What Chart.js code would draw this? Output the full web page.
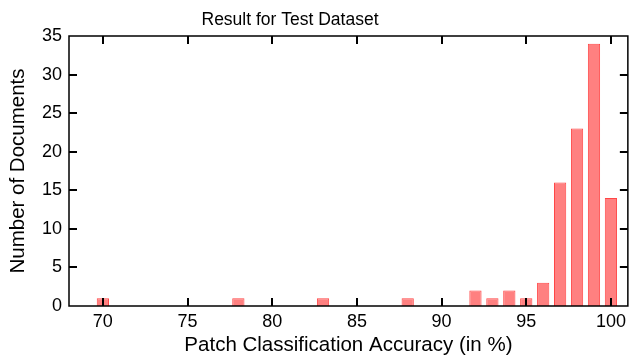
<!DOCTYPE html>
<html>
<head>
<meta charset="utf-8">
<script src="https://cdn.jsdelivr.net/npm/chart.js@4/dist/chart.umd.min.js"></script>
<style>
  html, body { margin: 0; padding: 0; background: #fff; }
  #wrap { width: 631px; height: 358px; position: relative; }
</style>
</head>
<body>
<div id="wrap"><canvas id="histChart"></canvas></div>
<script>
// accuracy bins (in %) and number of documents per bin
const accuracy = [70, 78, 83, 88, 92, 93, 94, 95, 96, 97, 98, 99, 100];
const documents = [1, 1, 1, 1, 2, 1, 2, 1, 3, 16, 23, 34, 14];
const xTicks = [70, 75, 80, 85, 90, 95, 100];
const yTicks = [0, 5, 10, 15, 20, 25, 30, 35];

const fontFamily = '"Liberation Sans", Arial, sans-serif';

// ticks pointing inwards on all four sides + title over the figure
const frameTicks = {
    id: 'frameTicks',
    afterDraw(chart) {
        const ctx = chart.ctx;
        const area = chart.chartArea;
        const xs = chart.scales.x;
        const ys = chart.scales.y;
        const len = 8;
        ctx.save();
        ctx.strokeStyle = '#000';
        ctx.lineWidth = 2;
        ctx.beginPath();
        xTicks.forEach(v => {
            const px = Math.round(xs.getPixelForValue(v));
            ctx.moveTo(px, area.bottom);
            ctx.lineTo(px, area.bottom - len);
            ctx.moveTo(px, area.top);
            ctx.lineTo(px, area.top + len);
        });
        yTicks.slice(1, -1).forEach(v => {
            const py = Math.round(ys.getPixelForValue(v));
            ctx.moveTo(area.left, py);
            ctx.lineTo(area.left + len, py);
            ctx.moveTo(area.right, py);
            ctx.lineTo(area.right - len, py);
        });
        ctx.stroke();
        ctx.lineWidth = 1.5;
        ctx.strokeRect(area.left, area.top, area.right - area.left, area.bottom - area.top);

        ctx.fillStyle = '#000';
        ctx.font = '17.5px ' + fontFamily;
        ctx.textAlign = 'center';
        ctx.textBaseline = 'alphabetic';
        ctx.fillText('Result for Test Dataset', 290, 25);
        ctx.restore();
    }
};

const histConfig = {
    type: 'bar',
    data: {
        datasets: [{
            label: 'Documents',
            data: accuracy.map((a, i) => ({ x: a, y: documents[i] })),
            backgroundColor: 'rgba(255, 128, 128, 1)',
            borderColor: 'rgba(255, 70, 70, 1)',
            borderWidth: 1,
            barPercentage: 0.85,
            categoryPercentage: 0.85
        }]
    },
    options: {
        responsive: true,
        maintainAspectRatio: false,
        animation: false,
        layout: { padding: { top: 36, right: 2, left: 0, bottom: 0 } },
        plugins: {
            legend: { display: false },
            tooltip: { enabled: false }
        },
        scales: {
            x: {
                type: 'linear',
                offset: false,
                min: 68,
                max: 101,
                afterFit: s => { s.height = 52; },
                afterBuildTicks: s => { s.ticks = xTicks.map(v => ({ value: v })); },
                grid: { display: false, drawTicks: false, offset: false },
                border: { display: false },
                ticks: {
                    color: '#000',
                    padding: 5,
                    font: { family: fontFamily, size: 18 }
                },
                title: {
                    display: true,
                    text: 'Patch Classification Accuracy (in %)',
                    color: '#000',
                    padding: { top: 0, bottom: 0 },
                    font: { family: fontFamily, size: 20.5 }
                }
            },
            y: {
                min: 0,
                max: 35,
                afterFit: s => { s.width = 69; },
                afterBuildTicks: s => { s.ticks = yTicks.map(v => ({ value: v })); },
                grid: { display: false, drawTicks: false },
                border: { display: false },
                ticks: {
                    color: '#000',
                    padding: 7,
                    font: { family: fontFamily, size: 18 }
                },
                title: {
                    display: true,
                    text: 'Number of Documents',
                    color: '#000',
                    padding: { top: 6, bottom: 0 },
                    font: { family: fontFamily, size: 20.5 }
                }
            }
        }
    },
    plugins: [frameTicks]
};

const histChart = new Chart(
    document.getElementById('histChart'),
    histConfig
);
</script>
</body>
</html>
